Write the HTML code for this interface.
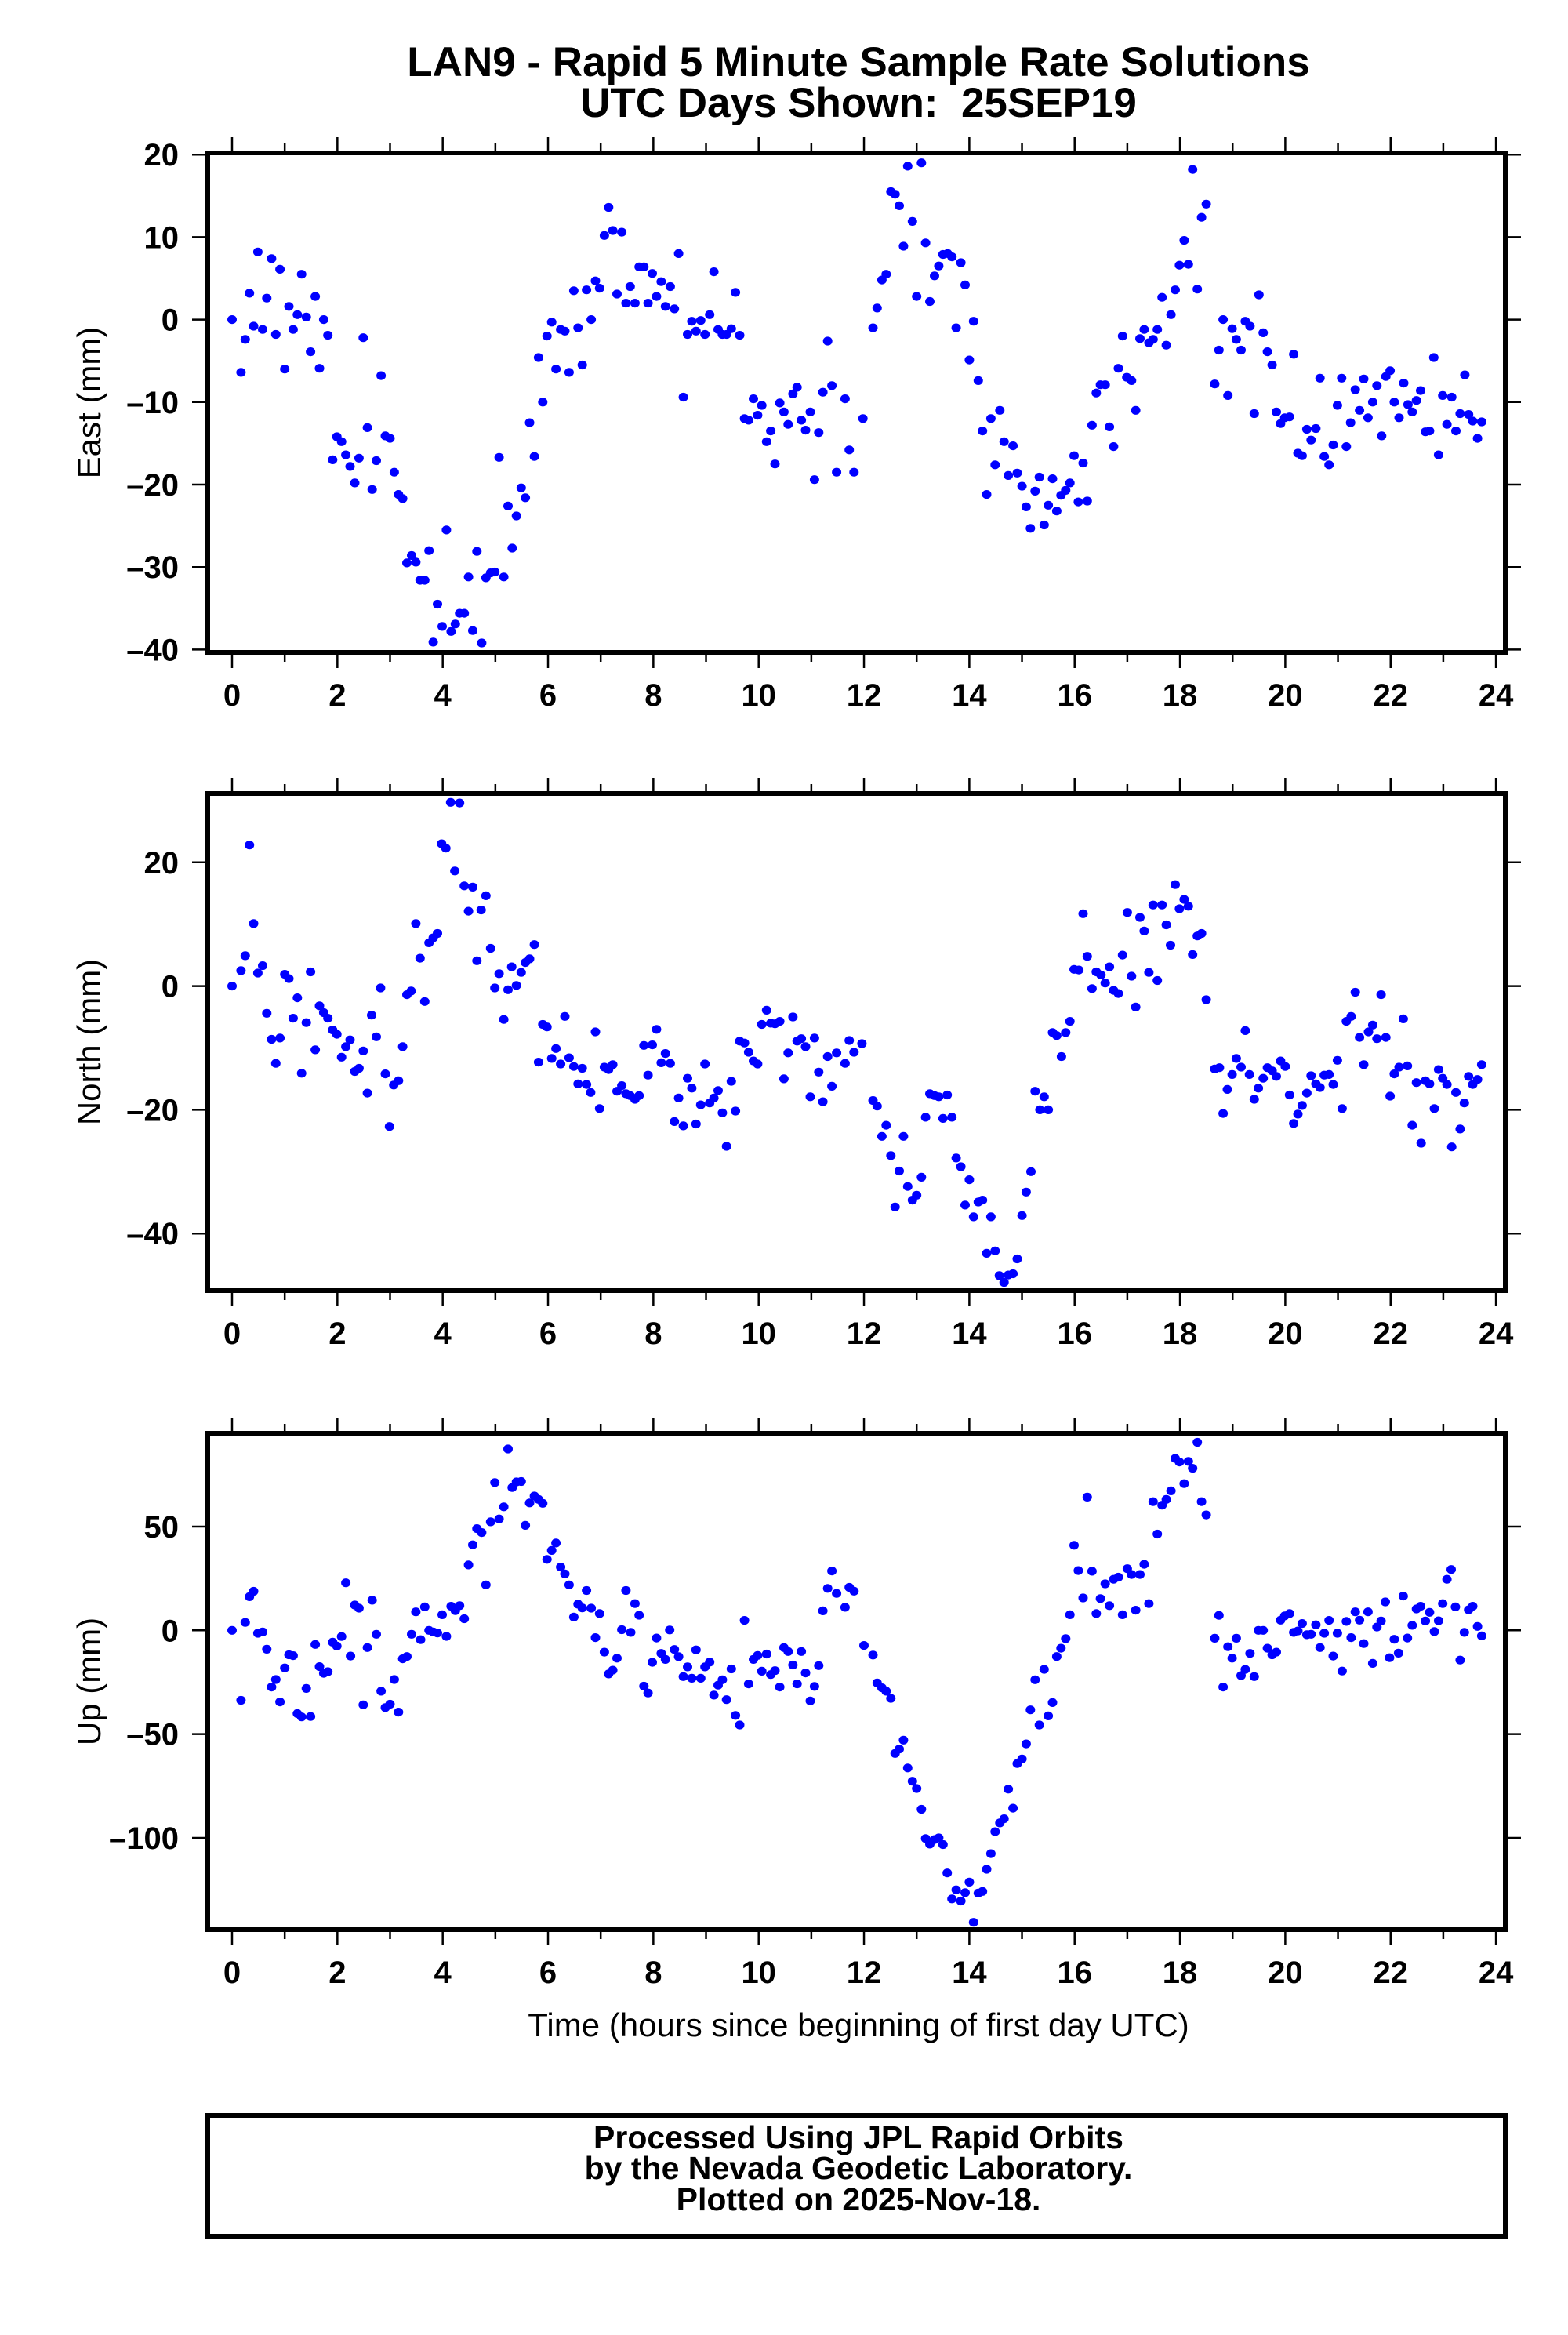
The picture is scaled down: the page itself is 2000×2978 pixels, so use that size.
<!DOCTYPE html>
<html><head><meta charset="utf-8"><style>
html,body{margin:0;padding:0;background:#fff}
svg{display:block}
text{font-family:"Liberation Sans",Arial,sans-serif}
</style></head><body>
<svg id="chart" width="2000" height="2978" viewBox="0 0 2000 2978" xmlns="http://www.w3.org/2000/svg">
<rect width="2000" height="2978" fill="#fff"/>
<text x="1095" y="97" text-anchor="middle" font-size="53" font-weight="bold">LAN9 - Rapid 5 Minute Sample Rate Solutions</text>
<text x="1095" y="149" text-anchor="middle" font-size="53" font-weight="bold">UTC Days Shown:&#160; 25SEP19</text>
<g id="panels"></g>
<text x="1095" y="2597" text-anchor="middle" font-size="42">Time (hours since beginning of first day UTC)</text>
<rect x="265" y="2698" width="1655" height="154" fill="none" stroke="#000" stroke-width="6"/>
<g font-size="41" font-weight="bold" text-anchor="middle">
<text x="1095" y="2740">Processed Using JPL Rapid Orbits</text>
<text x="1095" y="2779">by the Nevada Geodetic Laboratory.</text>
<text x="1095" y="2819">Plotted on 2025-Nov-18.</text>
</g>
</svg>
<script>
// ---- data (hours, mm) ----
const eastT=[0,.17,.25,.33,.41,.49,.58,.66,.75,.83,.91,1,1.08,1.16,1.24,1.32,1.41,1.49,1.58,1.66,1.74,1.82,1.91,1.99,2.08,2.16,2.24,2.33,2.41,2.49,2.57,2.66,2.74,2.83,2.91,3,3.08,3.16,3.24,3.32,3.41,3.49,3.57,3.66,3.74,3.82,3.9,3.99,4.07,4.16,4.24,4.32,4.41,4.49,4.57,4.65,4.74,4.82,4.91,4.99,5.07,5.16,5.24,5.32,5.4,5.49,5.57,5.65,5.74,5.82,5.9,5.98,6.07,6.15,6.24,6.32,6.4,6.49,6.57,6.65,6.73,6.82,6.9,6.98,7.07,7.15,7.23,7.31,7.4,7.48,7.56,7.65,7.73,7.82,7.9,7.98,8.06,8.15,8.23,8.32,8.4,8.48,8.57,8.65,8.73,8.81,8.9,8.98,9.07,9.15,9.23,9.31,9.39,9.48,9.56,9.64,9.73,9.81,9.9,9.98,10.06,10.15,10.23,10.31,10.4,10.48,10.56,10.65,10.73,10.81,10.89,10.98,11.06,11.14,11.22,11.31,11.39,11.48,11.64,11.72,11.81,11.98,12.17,12.25,12.34,12.42,12.51,12.59,12.67,12.75,12.83,12.92,13,13.09,13.17,13.25,13.34,13.42,13.5,13.59,13.67,13.75,13.84,13.92,14,14.08,14.17,14.25,14.33,14.41,14.49,14.58,14.66,14.74,14.83,14.91,15,15.08,15.16,15.25,15.33,15.42,15.5,15.58,15.66,15.74,15.83,15.91,15.99,16.07,16.16,16.24,16.33,16.41,16.49,16.58,16.66,16.74,16.83,16.91,16.99,17.08,17.16,17.24,17.32,17.41,17.49,17.57,17.66,17.74,17.83,17.91,17.99,18.08,18.16,18.24,18.33,18.41,18.5,18.66,18.74,18.82,18.91,18.99,19.07,19.16,19.24,19.33,19.41,19.5,19.58,19.66,19.75,19.83,19.91,19.99,20.08,20.16,20.24,20.32,20.41,20.49,20.58,20.66,20.74,20.83,20.91,20.99,21.07,21.16,21.24,21.33,21.41,21.49,21.57,21.66,21.74,21.83,21.91,21.99,22.07,22.16,22.25,22.33,22.41,22.49,22.57,22.66,22.74,22.82,22.91,22.99,23.07,23.16,23.24,23.32,23.41,23.48,23.56,23.65,23.73];
const eastV=[0,-6.4,-2.4,3.2,-.8,8.2,-1.2,2.6,7.4,-1.8,6.1,-6,1.6,-1.2,.6,5.5,.3,-3.9,2.8,-5.9,0,-1.9,-17,-14.2,-14.8,-16.4,-17.8,-19.8,-16.8,-2.2,-13.1,-20.6,-17.1,-6.8,-14.1,-14.4,-18.5,-21.2,-21.7,-29.5,-28.6,-29.4,-31.6,-31.6,-28,-39.1,-34.5,-37.2,-25.5,-37.8,-36.9,-35.6,-35.6,-31.2,-37.7,-28.1,-39.2,-31.3,-30.7,-30.6,-16.7,-31.2,-22.6,-27.7,-23.8,-20.4,-21.6,-12.5,-16.6,-4.6,-10,-2,-.3,-6,-1.2,-1.4,-6.4,3.5,-1,-5.5,3.6,0,4.7,3.8,10.2,13.6,10.8,3.1,10.6,2,4,2,6.4,6.4,2,5.6,2.8,4.6,1.6,4,1.3,8,-9.4,-1.8,-.2,-1.4,-.1,-1.8,.6,5.8,-1.2,-1.8,-1.8,-1.1,3.3,-1.9,-12,-12.2,-9.6,-11.6,-10.4,-14.8,-13.5,-17.5,-10.1,-11.2,-12.7,-9,-8.2,-12.2,-13.4,-11.2,-19.4,-13.7,-8.8,-2.6,-8,-18.5,-9.6,-15.8,-18.5,-12,-1,1.4,4.8,5.5,15.5,15.2,13.8,8.9,18.6,11.9,2.8,19,9.3,2.2,5.3,6.5,7.9,8,7.6,-1,6.9,4.2,-4.9,-.2,-7.4,-13.5,-21.2,-12,-17.6,-11,-14.8,-18.9,-15.3,-18.6,-20.2,-22.7,-25.3,-20.8,-19.1,-24.9,-22.5,-19.3,-23.2,-21.3,-20.7,-19.8,-16.5,-22.1,-17.4,-22,-12.8,-8.9,-7.9,-7.9,-13,-15.4,-5.9,-2,-7,-7.4,-11,-2.3,-1.2,-2.8,-2.4,-1.2,2.7,-3.1,.6,3.6,6.6,9.6,6.7,18.2,3.7,12.4,14,-7.8,-3.7,0,-9.2,-1.1,-2.4,-3.7,-.2,-.8,-11.4,3,-1.6,-3.9,-5.5,-11.2,-12.6,-11.9,-11.8,-4.2,-16.2,-16.5,-13.3,-14.6,-13.2,-7.1,-16.6,-17.6,-15.2,-10.4,-7.1,-15.4,-12.5,-8.5,-11,-7.2,-11.9,-10,-8,-14.1,-6.9,-6.2,-10,-11.9,-7.7,-10.3,-11.2,-9.8,-8.6,-13.6,-13.5,-4.6,-16.4,-9.2,-12.7,-9.4,-13.5,-11.4,-6.7,-11.5,-12.3,-14.4,-12.4];
const northT=[0,.17,.25,.33,.41,.49,.58,.66,.75,.83,.91,1,1.08,1.16,1.24,1.32,1.41,1.49,1.58,1.66,1.74,1.82,1.91,1.99,2.08,2.16,2.24,2.33,2.41,2.49,2.57,2.65,2.74,2.82,2.91,2.99,3.07,3.16,3.24,3.32,3.4,3.49,3.57,3.66,3.74,3.82,3.9,3.98,4.06,4.15,4.23,4.32,4.41,4.49,4.57,4.65,4.73,4.82,4.91,4.99,5.07,5.16,5.24,5.31,5.4,5.49,5.57,5.65,5.74,5.82,5.9,5.98,6.07,6.15,6.24,6.32,6.4,6.49,6.57,6.65,6.73,6.81,6.9,6.98,7.07,7.15,7.23,7.31,7.4,7.48,7.56,7.65,7.73,7.82,7.9,7.98,8.06,8.15,8.23,8.32,8.4,8.48,8.57,8.65,8.73,8.81,8.9,8.98,9.07,9.15,9.23,9.31,9.39,9.48,9.56,9.64,9.73,9.81,9.9,9.98,10.06,10.15,10.23,10.31,10.4,10.48,10.56,10.65,10.73,10.81,10.89,10.98,11.06,11.14,11.22,11.31,11.39,11.48,11.64,11.72,11.81,11.96,12.17,12.25,12.34,12.42,12.51,12.59,12.67,12.75,12.83,12.92,13,13.09,13.17,13.25,13.34,13.42,13.5,13.58,13.67,13.75,13.84,13.92,14,14.08,14.17,14.25,14.33,14.41,14.49,14.57,14.66,14.74,14.83,14.91,15,15.08,15.17,15.25,15.34,15.42,15.5,15.58,15.66,15.75,15.83,15.91,15.99,16.08,16.16,16.24,16.33,16.41,16.5,16.58,16.66,16.74,16.83,16.91,17,17.08,17.16,17.24,17.32,17.41,17.49,17.57,17.66,17.74,17.82,17.91,17.99,18.08,18.16,18.24,18.33,18.41,18.5,18.66,18.75,18.82,18.9,18.99,19.07,19.16,19.24,19.32,19.41,19.49,19.58,19.66,19.75,19.83,19.91,20,20.08,20.16,20.24,20.32,20.41,20.49,20.58,20.66,20.74,20.83,20.91,20.99,21.08,21.16,21.25,21.33,21.41,21.49,21.58,21.66,21.74,21.82,21.91,21.99,22.07,22.16,22.24,22.32,22.41,22.49,22.58,22.66,22.74,22.83,22.91,22.99,23.07,23.16,23.24,23.32,23.4,23.48,23.56,23.65,23.73];
const northV=[0,2.5,4.9,22.8,10.1,2.1,3.3,-4.4,-8.6,-12.5,-8.4,1.9,1.2,-5.2,-1.9,-14.1,-5.9,2.3,-10.3,-3.2,-4.3,-5.2,-7.1,-7.8,-11.5,-9.8,-8.7,-13.8,-13.3,-10.5,-17.3,-4.7,-8.2,-.3,-14.2,-22.7,-16,-15.3,-9.8,-1.4,-.8,10.1,4.5,-2.5,7,7.8,8.5,23,22.3,29.7,18.6,29.6,16.2,12.1,16,4.1,12.3,14.6,6.1,-.3,2,-5.4,-.6,3.1,.1,2.2,3.8,4.4,6.7,-12.3,-6.2,-6.6,-11.7,-10.1,-12.6,-4.9,-11.6,-13,-15.8,-13.3,-15.9,-17.2,-7.4,-19.8,-13.1,-13.5,-12.7,-17,-16.1,-17.4,-17.7,-18.3,-17.7,-9.6,-14.4,-9.5,-7,-12.4,-10.9,-12.5,-21.9,-18.1,-22.6,-14.9,-16.5,-22.3,-19.2,-12.6,-18.9,-18.1,-16.9,-20.5,-25.9,-15.4,-20.2,-8.9,-9.2,-10.7,-12.1,-12.6,-6.2,-3.9,-6,-6.1,-5.7,-15,-10.8,-5,-8.9,-8.5,-9.8,-17.9,-8.4,-13.9,-18.7,-11.4,-16.2,-10.8,-12.5,-8.8,-10.7,-9.3,-18.5,-19.4,-24.3,-22.5,-27.4,-35.7,-29.9,-24.3,-32.4,-34.6,-33.8,-30.9,-21.2,-17.4,-17.7,-17.9,-21.4,-17.6,-21.2,-27.8,-29.2,-35.4,-31.3,-37.3,-34.9,-34.6,-43.2,-37.3,-42.8,-46.8,-47.9,-46.7,-46.5,-44.1,-37.1,-33.3,-30,-17,-20,-17.9,-20,-7.5,-8,-11.4,-7.5,-5.7,2.7,2.6,11.7,4.8,-.4,2.3,1.8,.5,3.1,-.7,-1.2,5,11.9,1.6,-3.4,11.1,8.9,2.2,13.1,.9,13.1,9.9,6.6,16.4,12.5,14,12.9,5.1,8.1,8.5,-2.2,-13.4,-13.2,-20.6,-16.7,-14.3,-11.7,-13.1,-7.2,-14.3,-18.3,-16.5,-14.9,-13.2,-13.7,-14.6,-12.1,-13,-17.6,-22.2,-20.7,-19.3,-17.3,-14.5,-15.8,-16.4,-14.4,-14.3,-15.9,-12,-19.8,-5.7,-4.9,-1,-8.3,-12.7,-7.4,-6.3,-8.5,-1.4,-8.3,-17.8,-14.2,-13.1,-5.3,-12.9,-22.5,-15.6,-25.4,-15.3,-15.8,-19.8,-13.5,-14.9,-15.9,-26,-17.2,-23.1,-18.9,-14.6,-15.9,-15.1,-12.7];
const upT=[0,.17,.25,.33,.41,.49,.58,.66,.75,.83,.91,1,1.08,1.16,1.24,1.32,1.41,1.49,1.58,1.66,1.74,1.82,1.91,1.99,2.08,2.16,2.25,2.33,2.41,2.49,2.57,2.66,2.74,2.83,2.91,3,3.08,3.16,3.24,3.32,3.41,3.49,3.58,3.66,3.74,3.82,3.9,3.99,4.07,4.16,4.24,4.32,4.41,4.49,4.57,4.65,4.74,4.82,4.91,4.99,5.07,5.16,5.24,5.32,5.4,5.49,5.57,5.65,5.74,5.82,5.9,5.98,6.07,6.15,6.24,6.32,6.4,6.49,6.57,6.65,6.73,6.82,6.9,6.98,7.07,7.15,7.23,7.31,7.4,7.48,7.57,7.65,7.73,7.82,7.9,7.98,8.06,8.15,8.23,8.31,8.4,8.48,8.57,8.65,8.73,8.81,8.9,8.98,9.07,9.15,9.23,9.31,9.39,9.48,9.56,9.64,9.73,9.81,9.9,9.98,10.06,10.15,10.23,10.31,10.4,10.48,10.56,10.65,10.73,10.81,10.89,10.98,11.06,11.14,11.22,11.31,11.39,11.48,11.64,11.72,11.81,12,12.17,12.25,12.34,12.42,12.51,12.59,12.67,12.75,12.83,12.92,13,13.09,13.17,13.25,13.34,13.42,13.5,13.58,13.67,13.75,13.84,13.92,14,14.08,14.17,14.25,14.33,14.41,14.49,14.58,14.66,14.74,14.83,14.91,15,15.08,15.16,15.25,15.33,15.42,15.5,15.58,15.66,15.74,15.83,15.91,15.99,16.07,16.16,16.24,16.33,16.41,16.49,16.58,16.66,16.74,16.83,16.91,17,17.08,17.16,17.24,17.32,17.41,17.49,17.57,17.66,17.74,17.83,17.91,17.99,18.08,18.16,18.24,18.33,18.41,18.5,18.66,18.74,18.82,18.91,18.99,19.07,19.16,19.24,19.33,19.41,19.49,19.58,19.66,19.75,19.83,19.91,19.99,20.08,20.16,20.24,20.32,20.41,20.49,20.58,20.66,20.74,20.83,20.91,20.99,21.08,21.16,21.25,21.33,21.41,21.49,21.57,21.66,21.74,21.82,21.9,21.98,22.07,22.15,22.24,22.32,22.41,22.49,22.57,22.66,22.74,22.83,22.91,22.99,23.07,23.15,23.23,23.32,23.4,23.48,23.56,23.65,23.73];
const upV=[0,-33.7,3.8,16.2,18.8,-1.4,-.8,-9.1,-27.3,-23.7,-34.5,-18.1,-11.8,-12.2,-40.1,-41.7,-28,-41.5,-6.8,-17.5,-20.7,-19.9,-5.7,-7.6,-3,22.9,-12.4,12.2,10.7,-35.9,-8.3,14.5,-1.9,-29.3,-37.2,-35.6,-23.7,-39.4,-13.7,-12.6,-1.9,8.9,-4.5,11.3,0,-.8,-1.3,7.5,-2.9,11.6,9.5,11.9,5.6,31.5,41.2,49,47.1,21.9,52.3,71.2,53.7,59.5,87.4,68.8,71.5,71.7,50.6,61.4,64.7,63.1,61.2,34.2,38.5,42.1,30.5,27.2,21.9,6.4,12.6,10.8,19.2,10.7,-3.5,8.1,-10.5,-21,-19.2,-13.4,.3,19.2,-1,12.9,7.3,-26.9,-30.2,-15.4,-3.7,-11.1,-14,.2,-9.2,-12.7,-22.3,-17.6,-23.1,-9.4,-23.1,-17.6,-15.3,-31.2,-26.4,-23.8,-33.4,-18.6,-41,-45.6,4.8,-25.8,-14,-12.1,-19.7,-11.4,-21.3,-19.4,-27.3,-8.3,-10.2,-16.7,-25.8,-10.2,-20.5,-34,-27,-17,9.4,20.2,28.6,17.8,11.1,20.7,18.9,-7.3,-11.9,-25.3,-27.7,-29.3,-32.8,-59.3,-57.2,-52.9,-66.3,-72.7,-76.2,-86.2,-100.3,-103,-100.8,-100,-103.2,-116.9,-129.4,-125,-130.4,-126.4,-121.3,-140.7,-126.6,-125.8,-115.1,-107.6,-97,-92.8,-90.8,-76.5,-85.7,-64.2,-62,-54.7,-38.3,-23.8,-45.6,-18.8,-41.2,-34.8,-12.6,-8.6,-4,7.5,41,28.8,15.6,64.2,28.5,8.1,15.3,22.4,11.9,24.6,25.6,7.5,29.7,26.9,9.7,26.9,31.8,12.9,62,46.4,60.3,63.1,67.2,82.8,81.1,70.7,81.4,78.1,90.6,62,55.6,-3.8,7.2,-27.3,-7.9,-13.4,-3.8,-21.8,-18.8,-11.1,-22.3,0,0,-8.6,-11.8,-10.5,4.9,7,8.1,-1,-.3,3.3,-2.1,-1.9,2.7,-8.3,-1.4,4.8,-12.4,-1.4,-19.6,4.3,-3.5,8.9,4.9,-6.4,8.9,-15.9,1.6,4.5,13.7,-13.2,-4.3,-11,16.5,-3.7,2.4,10.3,11.6,4.5,8.7,-.6,4.6,12.9,24.6,29.3,11.3,-14.3,-1,9.9,11.6,1.9,-2.7];
const xTicks=[0,2,4,6,8,10,12,14,16,18,20,22,24];
const eastTicks=[20,10,0,-10,-20,-30,-40];
const northTicks=[20,0,-20,-40];
const upTicks=[50,0,-50,-100];

// ---- layout ----
const NS='http://www.w3.org/2000/svg';
const X0=296, XH=67.17, FL=265, FR=1920;
function xPos(h){return X0+h*XH;}
const panels=[
 {name:'east',label:'East (mm)',top:195,bot:832,zero:407.6,k:10.52,ticks:eastTicks,t:eastT,v:eastV},
 {name:'north',label:'North (mm)',top:1012,bot:1646,zero:1257.6,k:7.89,ticks:northTicks,t:northT,v:northV},
 {name:'up',label:'Up (mm)',top:1828,bot:2461,zero:2079.3,k:2.647,ticks:upTicks,t:upT,v:upV}
];
function mk(tag,attrs,parent){const e=document.createElementNS(NS,tag);for(const a in attrs)e.setAttribute(a,attrs[a]);parent.appendChild(e);return e;}
const root=document.getElementById('panels');
panels.forEach(p=>{
 const yPos=v=>p.zero-v*p.k;
 const g=mk('g',{},root);
 
 
 const pts=mk('g',{fill:'#0000ff'},g);
 
 
 for(let i=0;i<p.t.length;i++){
  const c=mk('ellipse',{cx:xPos(p.t[i]).toFixed(1),cy:yPos(p.v[i]).toFixed(1),rx:6,ry:5.6},pts);
  
  
 }
 const tk=mk('g',{stroke:'#000','stroke-width':2.5},g);
 
 
 for(let h=0;h<=24;h++){
  const L=h%2===0?17:9, x=xPos(h);
  mk('line',{x1:x,x2:x,y1:p.top-3,y2:p.top-3-L},tk);
  mk('line',{x1:x,x2:x,y1:p.bot+3,y2:p.bot+3+L},tk);
 }
 p.ticks.forEach(v=>{
  const y=yPos(v);
  mk('line',{x1:FL-3,x2:FL-20,y1:y,y2:y},tk);
  mk('line',{x1:FR+3,x2:FR+20,y1:y,y2:y},tk);
  const t=mk('text',{x:228,y:y+14,'text-anchor':'end','font-size':40,'font-weight':'bold'},g);
  
  
  t.textContent=(v<0?'\u2013':'')+Math.abs(v);
 });
 xTicks.forEach(h=>{
  const t=mk('text',{x:xPos(h),y:p.bot+68,'text-anchor':'middle','font-size':40,'font-weight':'bold'},g);
  
  
  t.textContent=h;
 });
 const fr=mk('rect',{x:FL,y:p.top,width:FR-FL,height:p.bot-p.top,fill:'none',stroke:'#000','stroke-width':6},g);
 
 
 const cy=(p.top+p.bot)/2;
 const yl=mk('text',{x:0,y:0,'text-anchor':'middle','font-size':42,transform:'translate(128,'+cy+') rotate(-90)'},g);
 
 
 yl.textContent=p.label;
});
</script>
</body></html>
